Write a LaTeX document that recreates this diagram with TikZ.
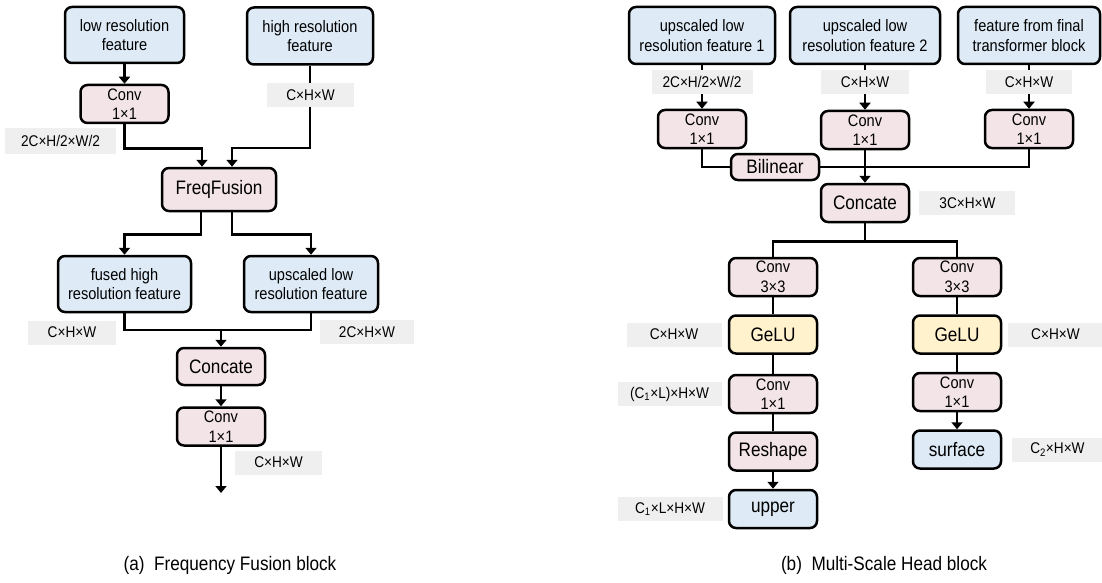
\documentclass[tikz,border=0pt]{standalone}
\usepackage{fontspec}
\setmainfont{Liberation Sans}[FakeStretch=0.88]
\usetikzlibrary{arrows.meta, positioning, calc}
\definecolor{featblue}{HTML}{DEEBF7}
\definecolor{oppink}{HTML}{F3E4E7}
\definecolor{actyellow}{HTML}{FFF2CC}
\definecolor{dimgray}{HTML}{EFEFEF}

\begin{document}
\begin{tikzpicture}[
      x=1pt, y=-1pt,
      node distance=17pt,
      feat/.style={rectangle, rounded corners=7pt, draw=black, line width=2.5pt, fill=featblue,
                   align=center, inner sep=0pt, font=\fontsize{16.6}{19.5}\selectfont},
      op/.style={feat, fill=oppink, minimum width=88pt, minimum height=38pt},
      act/.style={op, fill=actyellow, font=\fontsize{19.5}{22}\selectfont},
      big/.style={font=\fontsize{19.5}{22}\selectfont},
      dimlbl/.style={rectangle, fill=dimgray, minimum height=24pt, inner sep=0pt,
                     font=\fontsize{15.5}{18}\selectfont},
      ln/.style={line width=2.5pt},
      arr/.style={ln, -{Triangle[length=7pt, width=11pt]}}
    ]
      \useasboundingbox (0,0) rectangle (1102,583);

      % (a) frequency fusion
      \node[feat, minimum width=119pt, minimum height=56pt] (lowres) at (124.5,35) {low resolution\\feature};
      \node[feat, minimum width=126pt, minimum height=57pt] (highres) at (310,36) {high resolution\\feature};
      \node[op] (convA) at (124.5,104) {Conv\\1×1};
      \node[op, big, minimum width=114pt, minimum height=43pt] (freq) at (219,189.5) {FreqFusion};
      \node[feat, minimum width=133pt, minimum height=56pt] (fused) at (124.5,284) {fused high\\resolution feature};
      \node[feat, minimum width=134pt, minimum height=56pt] (upsc) at (311,284) {upscaled low\\resolution feature};
      \node[op, big, minimum height=37pt] (concA) at (221,366.5) {Concate};
      \node[op, below=20pt of concA] (convB) {Conv\\1×1};
      \coordinate (jA) at (221,330);
      \coordinate (outA) at (221,493);

      \draw[arr] (lowres) -- (convA);
      \draw[arr] (convA.south) -- ++(0,24) -| ($(freq.north)+(-17,0)$);
      \draw[arr] (highres.south) -- ++(0,82) -| ($(freq.north)+(13,0)$);
      \draw[arr] ($(freq.south)+(-18,0)$) -- ++(0,22) -| (fused.north);
      \draw[arr] ($(freq.south)+(13,0)$) -- ++(0,22) -| (upsc.north);
      \draw[ln] (fused.south) |- (jA) -| (upsc.south);
      \draw[arr] (jA) -- (concA);
      \draw[arr] (concA) -- (convB);
      \draw[arr] (convB) -- (outA);

      \node[dimlbl, minimum width=87pt] (lblA1) at (310.5,95.5) {C×H×W};
      \node[dimlbl, minimum width=111pt, minimum height=26pt] (lblA2) at (60.5,141) {2C×H/2×W/2};
      \node[dimlbl, minimum width=88pt] (lblA3) at (72,332.5) {C×H×W};
      \node[dimlbl, minimum width=94pt] (lblA4) at (367,332) {2C×H×W};
      \node[dimlbl, minimum width=87pt] (lblA5) at (278.5,462.5) {C×H×W};
      \node[font=\fontsize{19.5}{22}\selectfont] (capA) at (230,565) {(a)\ \ Frequency Fusion block};

      % (b) multi-scale head
      \node[feat, minimum width=146pt, minimum height=57pt] (up1) at (702,35.5) {upscaled low\\resolution feature 1};
      \node[feat, minimum width=150pt, minimum height=57pt] (up2) at (865,35.5) {upscaled low\\resolution feature 2};
      \node[feat, minimum width=142pt, minimum height=57pt] (fin) at (1029,35.5) {feature from final\\transformer block};
      \node[op] (convR1) at (702,129) {Conv\\1×1};
      \node[op] (convR2) at (865,130) {Conv\\1×1};
      \node[op] (convR3) at (1029,129) {Conv\\1×1};
      \node[op, big, minimum height=26pt] (bil) at (775,167) {Bilinear};
      \node[op, big] (concR) at (865,203) {Concate};
      \node[op] (c3L) at (773,277) {Conv\\3×3};
      \node[act, below=of c3L] (gL) {GeLU};
      \node[op, below=19pt of gL] (c1L) {Conv\\1×1};
      \node[op, big, below=of c1L] (resh) {Reshape};
      \node[feat, big, minimum width=88pt, minimum height=38pt, below=of resh] (upper) {upper};
      \node[op] (c3R) at (957,277) {Conv\\3×3};
      \node[act, below=of c3R] (gR) {GeLU};
      \node[op, below=of gR] (c1R) {Conv\\1×1};
      \node[feat, big, minimum width=88pt, minimum height=38pt, below=of c1R] (surf) {surface};

      \draw[arr] (up1) -- (convR1);
      \draw[arr] (up2) -- (convR2);
      \draw[arr] (fin) -- (convR3);
      \draw[ln] (convR1.south) |- (bil.west);
      \draw[ln] (bil.east) -| (convR3.south);
      \draw[arr] (convR2) -- (concR);
      \draw[ln] (concR.south) -- ++(0,18) -| (c3L.north);
      \draw[ln] (concR.south) -- ++(0,18) -| (c3R.north);
      \draw[ln] (c3L) -- (gL) (gL) -- (c1L) (c1L) -- (resh);
      \draw[arr] (resh) -- (upper);
      \draw[ln] (c3R) -- (gR) (gR) -- (c1R);
      \draw[arr] (c1R) -- (surf);

      \node[dimlbl, minimum width=101pt] (lblB1) at (702,82) {2C×H/2×W/2};
      \node[dimlbl, minimum width=88pt] (lblB2) at (865,82) {C×H×W};
      \node[dimlbl, minimum width=86pt] (lblB3) at (1029,82) {C×H×W};
      \node[dimlbl, minimum width=96pt, right=9pt of concR] (lblB4) {3C×H×W};
      \node[dimlbl, minimum width=95pt, left=6pt of gL] (lblB5) {C×H×W};
      \node[dimlbl, minimum width=104pt, left=6pt of c1L] (lblB6) {(C\textsubscript{1}×L)×H×W};
      \node[dimlbl, minimum width=105pt, left=5pt of upper] (lblB7) {C\textsubscript{1}×L×H×W};
      \node[dimlbl, minimum width=94pt, right=6pt of gR] (lblB8) {C×H×W};
      \node[dimlbl, minimum width=90pt, right=10pt of surf] (lblB9) {C\textsubscript{2}×H×W};
      \node[font=\fontsize{19.5}{22}\selectfont] (capB) at (884,565) {(b)\ \ Multi-Scale Head block};
    \end{tikzpicture}
\end{document}
